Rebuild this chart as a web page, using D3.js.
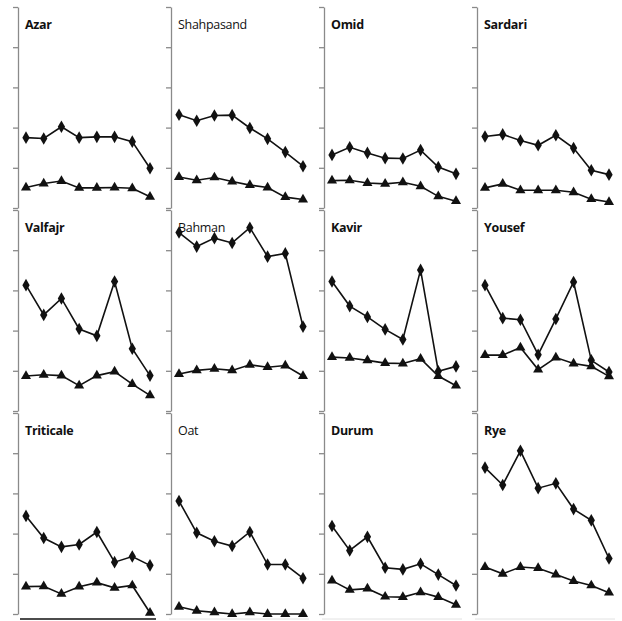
<!DOCTYPE html>
<html>
<head>
<meta charset="utf-8">
<script src="https://cdn.jsdelivr.net/npm/d3@7"></script>
<style>
  body { margin: 0; background: #fff; }
  svg { display: block; }
  .title { font-family: "Open Sans", sans-serif; font-size: 12.5px; fill: #111; letter-spacing: -0.3px; }
</style>
</head>
<body>
<svg id="chart" width="622" height="621"></svg>
<script>
// cultivar names, in reading order (3 rows x 4 columns)
const cultivars = [
  'Azar', 'Shahpasand', 'Omid', 'Sardari',
  'Valfajr', 'Bahman', 'Kavir', 'Yousef',
  'Triticale', 'Oat', 'Durum', 'Rye'
]
const regularTitles = ['Shahpasand', 'Bahman', 'Oat']

// upper series (diamonds), read in tick units
const diamondValues = [
  [1.75, 1.73, 2.02, 1.75, 1.77, 1.77, 1.65, 0.99],
  [2.32, 2.17, 2.30, 2.31, 1.99, 1.72, 1.39, 1.04],
  [1.32, 1.51, 1.37, 1.24, 1.23, 1.44, 1.02, 0.85],
  [1.78, 1.83, 1.68, 1.56, 1.81, 1.49, 0.94, 0.83],
  [3.13, 2.39, 2.80, 2.04, 1.87, 3.22, 1.55, 0.88],
  [4.44, 4.09, 4.30, 4.18, 4.56, 3.84, 3.92, 2.10],
  [3.22, 2.61, 2.34, 2.03, 1.78, 3.51, 0.99, 1.11],
  [3.13, 2.31, 2.27, 1.40, 2.29, 3.21, 1.26, 0.97],
  [2.44, 1.89, 1.67, 1.73, 2.04, 1.29, 1.43, 1.21],
  [2.81, 2.02, 1.81, 1.69, 2.04, 1.23, 1.23, 0.89],
  [2.19, 1.58, 1.92, 1.15, 1.11, 1.25, 0.98, 0.71],
  [3.64, 3.21, 4.06, 3.13, 3.25, 2.61, 2.33, 1.38]
]

// lower series (triangles)
const triangleValues = [
  [0.51, 0.61, 0.67, 0.50, 0.50, 0.51, 0.49, 0.28],
  [0.77, 0.69, 0.76, 0.66, 0.57, 0.51, 0.27, 0.21],
  [0.68, 0.69, 0.62, 0.60, 0.64, 0.54, 0.29, 0.17],
  [0.50, 0.60, 0.44, 0.44, 0.44, 0.39, 0.22, 0.15],
  [0.87, 0.90, 0.88, 0.63, 0.88, 0.98, 0.67, 0.39],
  [0.92, 1.01, 1.05, 1.01, 1.15, 1.09, 1.13, 0.87],
  [1.34, 1.32, 1.26, 1.19, 1.18, 1.30, 0.87, 0.63],
  [1.39, 1.39, 1.58, 1.03, 1.33, 1.18, 1.11, 0.86],
  [0.68, 0.69, 0.50, 0.68, 0.78, 0.65, 0.71, 0.03],
  [0.18, 0.08, 0.04, 0.00, 0.04, 0.00, 0.00, 0.00],
  [0.83, 0.60, 0.63, 0.43, 0.42, 0.54, 0.42, 0.23],
  [1.17, 1.00, 1.17, 1.14, 0.98, 0.82, 0.71, 0.53]
]

const yTicks = [0, 1, 2, 3, 4, 5]

const svg = d3.select('#chart')
const colStep = 153
const rowStep = 203
const panelHeight = 201

const x = d3.scaleLinear().domain([0, 7]).range([8, 132])
const y = d3.scaleLinear().domain([0, 5]).range([panelHeight, 0])

const line = d3.line()
  .x((d, i) => x(i))
  .y(d => y(d))

const diamond = d3.symbol().type(d3.symbolDiamond).size(46)
const triangle = d3.symbol().type(d3.symbolTriangle).size(44)

cultivars.forEach((name, k) => {
  const col = k % 4
  const row = Math.floor(k / 4)
  const g = svg.append('g')
    .attr('transform', `translate(${18 + col * colStep},${7 + row * rowStep})`)

  const axis = g.append('g')
    .call(d3.axisLeft(y).tickValues(yTicks).tickSize(5).tickSizeOuter(0).tickFormat(''))
  axis.selectAll('path, line').attr('stroke', '#8a8a8a').attr('stroke-width', 1.3)

  if (row === 2) {
    g.append('line')
      .attr('x1', col === 0 ? 2 : -2)
      .attr('x2', 138)
      .attr('y1', panelHeight + 5)
      .attr('y2', panelHeight + 5)
      .attr('stroke', col === 0 ? '#111' : '#e2e2e2')
      .attr('stroke-width', col === 0 ? 1.6 : 1)
  }

  g.append('text')
    .attr('class', 'title')
    .attr('x', 7)
    .attr('y', 22)
    .attr('font-weight', regularTitles.includes(name) ? 500 : 700)
    .text(name)

  const series = [
    { values: triangleValues[k], symbol: triangle },
    { values: diamondValues[k], symbol: diamond }
  ]

  series.forEach(s => {
    g.append('path')
      .datum(s.values)
      .attr('fill', 'none')
      .attr('stroke', '#111')
      .attr('stroke-width', 1.6)
      .attr('d', line)

    g.selectAll(null)
      .data(s.values)
      .enter()
      .append('path')
      .attr('transform', (d, i) => `translate(${x(i)},${y(d)})`)
      .attr('d', s.symbol)
      .attr('fill', '#111')
  })
})
</script>
</body>
</html>
